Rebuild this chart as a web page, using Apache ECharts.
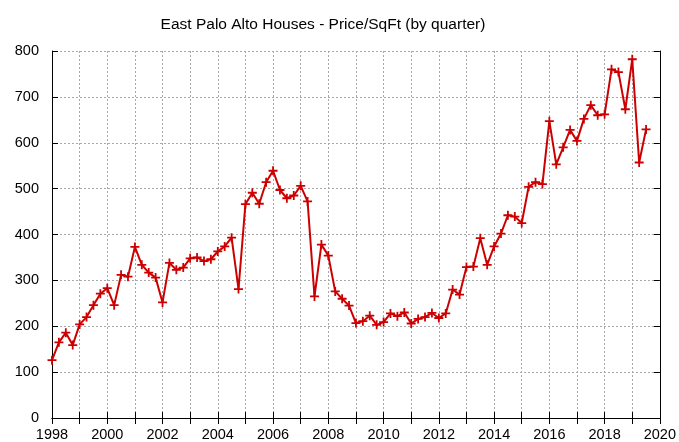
<!DOCTYPE html>
<html>
<head>
<meta charset="utf-8">
<script src="https://cdn.jsdelivr.net/npm/echarts@6/dist/echarts.min.js"></script>
<style>
  html, body { margin: 0; padding: 0; background: #fff; }
  #main { width: 679px; height: 442px; }
</style>
</head>
<body>
<div id="main"></div>
<script>
var titleText = 'East Palo Alto Houses - Price/SqFt (by quarter)';
var firstQuarter = 1998;   // first point, then one every quarter
var yTicks = [0, 100, 200, 300, 400, 500, 600, 700, 800];

// price per sq ft, one value per quarter, 1998 Q1 .. 2019 Q3
var prices = [
  126, 165, 186, 159,   // 1998
  204, 220, 246, 271,   // 1999
  283, 246, 312, 308,   // 2000
  373, 334, 317, 306,   // 2001
  252, 338, 323, 328,   // 2002
  348, 350, 342, 346,   // 2003
  363, 374, 393, 281,   // 2004
  466, 491, 467, 514,   // 2005
  539, 497, 479, 485,   // 2006
  506, 472, 265, 378,   // 2007
  354, 276, 260, 245,   // 2008
  207, 211, 223, 203,   // 2009
  209, 228, 222, 230,   // 2010
  206, 216, 220, 229,   // 2011
  218, 228, 280, 269,   // 2012
  329, 330, 392, 334,   // 2013
  374, 402, 442, 439,   // 2014
  425, 504, 514, 510,   // 2015
  647, 553, 590, 628,   // 2016
  604, 652, 682, 660,   // 2017
  662, 760, 754, 673,   // 2018
  782, 557, 629         // 2019
];

var points = prices.map(function (v, i) { return [firstQuarter + i * 0.25, v]; });

var dom = document.getElementById('main');
var myChart = echarts.init(dom, null, { renderer: 'canvas' });

var font = 'Liberation Sans, Arial, sans-serif';
var grid = { color: '#a8a8a8', type: [2, 2], width: 1 };
var plus = 'path://M-1,-5H1V-1H5V1H1V5H-1V1H-5V-1H-1Z';

var option = {
  animation: false,
  backgroundColor: '#fff',
  title: {
    text: titleText,
    left: 318,
    textAlign: 'center',
    top: 12,
    textStyle: { fontFamily: font, fontSize: 15.5, fontWeight: 'normal', color: '#000' }
  },
  grid: { left: 52, right: 14, top: 51, bottom: 23 },
  xAxis: [
    {
      type: 'value',
      min: 1998,
      max: 2020,
      interval: 1,
      axisLine: { lineStyle: { color: '#000', width: 1 } },
      axisTick: { inside: true, length: 6, lineStyle: { color: '#000' } },
      axisLabel: {
        margin: 9,
        fontFamily: font,
        fontSize: 14.5,
        color: '#000',
        formatter: function (v) { return v % 2 === 0 ? String(v) : ''; }
      },
      splitLine: { show: true, lineStyle: grid }
    },
    {
      type: 'value',
      position: 'top',
      min: 1998,
      max: 2020,
      interval: 1,
      axisLine: { show: true, lineStyle: { color: '#000', width: 1 } },
      axisTick: { inside: true, length: 6, lineStyle: { color: '#000' } },
      axisLabel: { show: false },
      splitLine: { show: false }
    }
  ],
  yAxis: [
    {
      type: 'value',
      min: yTicks[0],
      max: yTicks[yTicks.length - 1],
      interval: 100,
      axisLine: { show: true, lineStyle: { color: '#000', width: 1 } },
      axisTick: { show: true, inside: true, length: 6, lineStyle: { color: '#000' } },
      axisLabel: { margin: 13, fontFamily: font, fontSize: 14.5, color: '#000' },
      splitLine: { show: true, lineStyle: grid }
    },
    {
      type: 'value',
      position: 'right',
      min: yTicks[0],
      max: yTicks[yTicks.length - 1],
      interval: 100,
      axisLine: { show: true, lineStyle: { color: '#000', width: 1 } },
      axisTick: { show: true, inside: true, length: 6, lineStyle: { color: '#000' } },
      axisLabel: { show: false },
      splitLine: { show: false }
    }
  ],
  series: [
    {
      name: 'Price/SqFt',
      type: 'line',
      xAxisIndex: 0,
      yAxisIndex: 0,
      data: points,
      symbol: plus,
      symbolSize: 9,
      showAllSymbol: true,
      itemStyle: { color: '#cc0000' },
      lineStyle: { color: '#cc0000', width: 2 }
    }
  ]
};

myChart.setOption(option);
window.addEventListener('resize', myChart.resize);
</script>
</body>
</html>
